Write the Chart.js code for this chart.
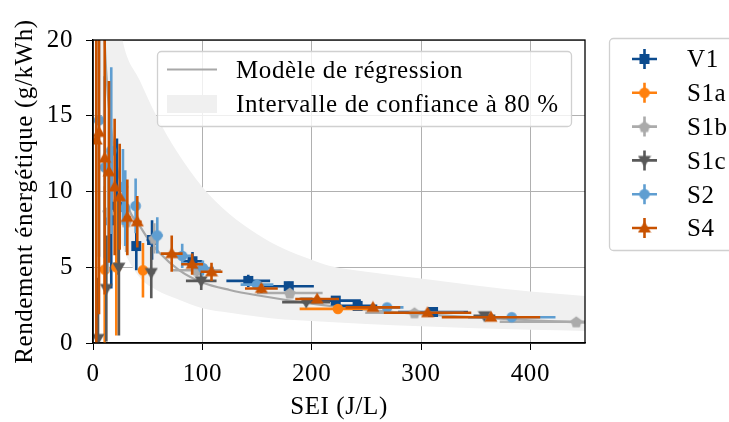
<!DOCTYPE html>
<html>
<head>
<meta charset="utf-8">
<script src="https://cdn.jsdelivr.net/npm/chart.js@4.4.0/dist/chart.umd.min.js"></script>
<style>
html, body { margin: 0; padding: 0; background: #fff; }
canvas { display: block; }
</style>
</head>
<body>
<canvas id="chart" width="729" height="422"></canvas>
<script>
// --- data ---
const xTickValues = [0, 100, 200, 300, 400];
const yTickValues = [0, 5, 10, 15, 20];

const v1X = [16.7, 21.9, 39.6, 54, 91, 142, 179, 222, 242, 311];
const v1Y = [8.1, 9.0, 6.4, 6.8, 5.4, 4.1, 3.75, 2.8, 2.45, 2.05];
const v1XErr = [2, 3, 3, 5, 9, 20, 23, 23, 18, 32];
const v1YErr = [4.5, 4.5, 1.6, 1.3, 0.6, 0.4, 0.3, 0.2, 0.15, 0.15];

const s1aX = [10.7, 21.3, 45.7, 224];
const s1aY = [4.85, 5.0, 4.8, 2.25];
const s1aXErr = [1, 1.5, 3, 35];
const s1aYErr = [5.5, 4.5, 1.8, 0.1];

const s1bX = [13.7, 30.4, 56, 95, 180, 294, 442];
const s1bY = [8.65, 8.0, 6.9, 4.8, 3.3, 2.0, 1.4];
const s1bXErr = [1, 2, 5, 22, 30, 45, 70];
const s1bYErr = [4, 2, 1.0, 0.4, 0.25, 0.15, 0.1];

const s1cX = [4.6, 12.2, 23.7, 53.3, 99, 195, 358];
const s1cY = [0.3, 3.6, 5.0, 4.65, 4.1, 2.7, 1.8];
const s1cXErr = [0.5, 1, 1.5, 3, 14, 22, 10];
const s1cYErr = [4, 3.5, 4.5, 1.7, 0.6, 0.1, 0.1];

const s2X = [5.5, 10.7, 16.7, 27.4, 29.5, 39, 58.8, 81.6, 100.5, 150, 269, 383];
const s2Y = [14.7, 11.6, 12.7, 10.3, 8.9, 9.05, 7.1, 5.75, 4.95, 3.85, 2.35, 1.7];
const s2XErr = [0.5, 1, 1.5, 2, 2, 3, 5, 8, 10, 15, 15, 40];
const s2YErr = [9, 6, 5.5, 2.5, 2.5, 1.8, 1.2, 0.8, 0.5, 0.3, 0.15, 0.1];

const s4X = [3, 5.5, 10.7, 14.6, 19.8, 24.4, 31.4, 40.5, 72, 90.7, 108.4, 154, 205, 256, 306, 364];
const s4Y = [13.4, 13.9, 12.2, 11.3, 10.3, 9.65, 8.3, 8.0, 5.9, 5.2, 4.7, 3.6, 2.9, 2.35, 2.0, 1.7];
const s4XErr = [0.5, 0.7, 1, 1.5, 2, 2, 3, 4, 10, 10, 10, 15, 20, 25, 40, 45];
const s4YErr = [15, 12, 9, 6, 4.5, 3.5, 2.5, 1.7, 1.2, 0.7, 0.6, 0.3, 0.2, 0.15, 0.1, 0.1];

// regression curve and 80 % band
const fitX = [5, 8, 12, 16, 20, 25, 30, 35, 43, 50, 60, 79, 100, 125, 150, 200, 250, 300, 350, 400, 450];
const fitY = [35, 25, 18, 14.5, 12.4, 10.6, 9.4, 8.5, 7.7, 6.9, 6.0, 4.8, 4.0, 3.5, 3.15, 2.6, 2.2, 1.9, 1.7, 1.5, 1.35];
const bandX = [5, 8, 12, 16, 20, 27, 43, 58, 77, 100, 125, 150, 175, 200, 216, 250, 300, 350, 400, 450];
const bandUpper = [40, 34, 29, 26, 23.5, 20, 17.3, 15, 12.6, 10.3, 8.5, 7.2, 6.2, 5.5, 5.1, 4.7, 4.25, 3.8, 3.4, 3.1];
const bandLower = [21.7, 15.4, 11.4, 9.0, 7.9, 6.3, 4.3, 3.5, 2.9, 2.3, 2.0, 1.75, 1.55, 1.45, 1.38, 1.25, 1.1, 0.98, 0.88, 0.8];

const FONT = 'Liberation Serif';
const FS = 25;
const SPACING = '0.6px';

const seriesNames = ['V1', 'S1a', 'S1b', 'S1c', 'S2', 'S4'];
const seriesColors = ['#0c4b8e', '#ff800e', '#ababab', '#595959', '#5f9ed1', '#c85200'];
const seriesShapes = ['square', 'circle', 'pentagon', 'tridown', 'circle', 'triup'];

function makeMarker(shape, color) {
  const c = document.createElement('canvas');
  c.width = 14; c.height = 14;
  const g = c.getContext('2d');
  const r = 7;
  g.fillStyle = color;
  g.beginPath();
  if (shape === 'square') {
    g.rect(r - 5, r - 5, 10, 10);
  } else if (shape === 'circle') {
    g.arc(r, r, 5.3, 0, Math.PI * 2);
  } else if (shape === 'pentagon') {
    for (let k = 0; k < 5; k++) {
      const a = -Math.PI / 2 + k * 2 * Math.PI / 5;
      const px = r + 6 * Math.cos(a), py = r + 0.6 + 6 * Math.sin(a);
      k ? g.lineTo(px, py) : g.moveTo(px, py);
    }
    g.closePath();
  } else if (shape === 'tridown') {
    g.moveTo(r - 6.5, r - 4.5); g.lineTo(r + 6.5, r - 4.5); g.lineTo(r, r + 6.5); g.closePath();
  } else {
    g.moveTo(r - 6.5, r + 4.5); g.lineTo(r + 6.5, r + 4.5); g.lineTo(r, r - 6.5); g.closePath();
  }
  g.fill();
  return c;
}

const markers = seriesShapes.map((s, i) => makeMarker(s, seriesColors[i]));

function toPoints(xs, ys) {
  return xs.map((x, i) => ({ x: x, y: ys[i] }));
}

const seriesX = [v1X, s1aX, s1bX, s1cX, s2X, s4X];
const seriesY = [v1Y, s1aY, s1bY, s1cY, s2Y, s4Y];
const seriesXErr = [v1XErr, s1aXErr, s1bXErr, s1cXErr, s2XErr, s4XErr];
const seriesYErr = [v1YErr, s1aYErr, s1bYErr, s1cYErr, s2YErr, s4YErr];

const datasets = [
  {
    label: 'band-upper',
    data: toPoints(bandX, bandUpper),
    showLine: true,
    borderWidth: 0,
    borderColor: 'transparent',
    pointRadius: 0,
    cubicInterpolationMode: 'monotone',
    fill: '+1',
    backgroundColor: '#f0f0f0',
    order: 20
  },
  {
    label: 'band-lower',
    data: toPoints(bandX, bandLower),
    showLine: true,
    borderWidth: 0,
    borderColor: 'transparent',
    pointRadius: 0,
    cubicInterpolationMode: 'monotone',
    fill: false,
    order: 19
  },
  {
    label: 'fit',
    data: toPoints(fitX, fitY),
    showLine: true,
    borderWidth: 2.2,
    borderColor: '#a8a8a8',
    pointRadius: 0,
    cubicInterpolationMode: 'monotone',
    fill: false,
    order: 18
  }
];

seriesNames.forEach((name, i) => {
  datasets.push({
    label: name,
    data: toPoints(seriesX[i], seriesY[i]),
    xErr: seriesXErr[i],
    yErr: seriesYErr[i],
    barColor: seriesColors[i],
    pointStyle: markers[i],
    pointRadius: 5,
    backgroundColor: seriesColors[i],
    borderColor: seriesColors[i],
    showLine: false,
    order: 10 - i
  });
});

// wider letter spacing so Liberation Serif gets closer to the original serif face
const letterSpacing = {
  id: 'letterSpacing',
  beforeLayout(chart) { chart.ctx.letterSpacing = SPACING; },
  beforeDraw(chart) { chart.ctx.letterSpacing = SPACING; }
};

const errorBars = {
  id: 'errorBars',
  beforeDatasetDraw(chart, args) {
    const ds = chart.data.datasets[args.index];
    if (!ds.xErr) return;
    const { ctx, chartArea, scales: { x, y } } = chart;
    ctx.save();
    ctx.beginPath();
    ctx.rect(chartArea.left, chartArea.top, chartArea.right - chartArea.left, chartArea.bottom - chartArea.top);
    ctx.clip();
    ctx.strokeStyle = ds.barColor;
    ctx.lineWidth = 2.6;
    ds.data.forEach((p, i) => {
      const cx = x.getPixelForValue(p.x);
      const cy = y.getPixelForValue(p.y);
      ctx.beginPath();
      ctx.moveTo(x.getPixelForValue(p.x - ds.xErr[i]), cy);
      ctx.lineTo(x.getPixelForValue(p.x + ds.xErr[i]), cy);
      ctx.moveTo(cx, y.getPixelForValue(p.y - ds.yErr[i]));
      ctx.lineTo(cx, y.getPixelForValue(p.y + ds.yErr[i]));
      ctx.stroke();
    });
    ctx.restore();
  }
};

function roundBox(ctx, x, y, w, h, r) {
  ctx.beginPath();
  ctx.moveTo(x + r, y);
  ctx.arcTo(x + w, y, x + w, y + h, r);
  ctx.arcTo(x + w, y + h, x, y + h, r);
  ctx.arcTo(x, y + h, x, y, r);
  ctx.arcTo(x, y, x + w, y, r);
  ctx.closePath();
}

const frameAndLegends = {
  id: 'frameAndLegends',
  afterDatasetsDraw(chart) {
    const { ctx, chartArea: a } = chart;
    ctx.save();
    ctx.strokeStyle = '#000';
    ctx.lineWidth = 1.3;
    ctx.strokeRect(a.left, a.top, a.right - a.left, a.bottom - a.top);
    ctx.restore();
  },
  afterDraw(chart) {
    const ctx = chart.ctx;
    ctx.save();
    ctx.font = FS + 'px "' + FONT + '"';
    ctx.textBaseline = 'alphabetic';
    ctx.fillStyle = '#000';

    // legend inside the axes
    roundBox(ctx, 157.5, 51.5, 414, 75, 4);
    ctx.fillStyle = 'rgba(255,255,255,0.8)';
    ctx.fill();
    ctx.strokeStyle = '#d0d0d0';
    ctx.lineWidth = 1.3;
    ctx.stroke();
    ctx.strokeStyle = '#a8a8a8';
    ctx.lineWidth = 2.2;
    ctx.beginPath();
    ctx.moveTo(167, 69.5);
    ctx.lineTo(217, 69.5);
    ctx.stroke();
    ctx.fillStyle = '#f0f0f0';
    ctx.fillRect(167, 95, 50, 18);
    ctx.fillStyle = '#000';
    ctx.fillText('Modèle de régression', 236, 78);
    ctx.fillText('Intervalle de confiance à 80 %', 236, 112);

    // legend outside the axes
    roundBox(ctx, 609.5, 38.5, 140, 212, 4);
    ctx.fillStyle = '#fff';
    ctx.fill();
    ctx.strokeStyle = '#d0d0d0';
    ctx.lineWidth = 1.3;
    ctx.stroke();
    seriesNames.forEach((name, i) => {
      const yy = 59 + i * 33.8;
      ctx.strokeStyle = seriesColors[i];
      ctx.lineWidth = 2.6;
      ctx.beginPath();
      ctx.moveTo(632, yy);
      ctx.lineTo(657, yy);
      ctx.moveTo(644.5, yy - 10);
      ctx.lineTo(644.5, yy + 10);
      ctx.stroke();
      ctx.drawImage(markers[i], 644.5 - 7, yy - 7);
      ctx.fillStyle = '#000';
      ctx.fillText(name, 687, yy + 8.3);
    });
    ctx.restore();
  }
};

const tickFont = { family: FONT, size: FS };

const config = {
  type: 'scatter',
  data: { datasets: datasets },
  options: {
    responsive: false,
    animation: false,
    events: [],
    layout: { padding: { left: 0, top: 40, right: 144, bottom: 0 } },
    plugins: {
      legend: { display: false },
      tooltip: { enabled: false }
    },
    scales: {
      x: {
        type: 'linear',
        min: 0,
        max: 450,
        ticks: { font: tickFont, color: '#000', padding: 9 },
        grid: { color: '#b0b0b0', lineWidth: 1, tickColor: '#000', tickLength: 7 },
        border: { color: '#000', width: 1.3 },
        title: { display: true, text: 'SEI (J/L)', font: tickFont, color: '#000', padding: { top: 0, bottom: 0 } },
        afterBuildTicks(scale) {
          scale.ticks = xTickValues.map(v => ({ value: v }));
        },
        afterFit(scale) { scale.height = 79; }
      },
      y: {
        type: 'linear',
        min: 0,
        max: 20,
        ticks: { font: tickFont, color: '#000', padding: 13 },
        grid: { color: '#b0b0b0', lineWidth: 1, tickColor: '#000', tickLength: 7 },
        border: { color: '#000', width: 1.3 },
        title: { display: true, text: 'Rendement énergétique (g/kWh)', font: tickFont, color: '#000', padding: { top: 10, bottom: 0 } },
        afterBuildTicks(scale) {
          scale.ticks = yTickValues.map(v => ({ value: v }));
        },
        afterFit(scale) { scale.width = 93; }
      }
    }
  },
  plugins: [letterSpacing, errorBars, frameAndLegends]
};

const myChart = new Chart(document.getElementById('chart').getContext('2d'), config);
</script>
</body>
</html>
